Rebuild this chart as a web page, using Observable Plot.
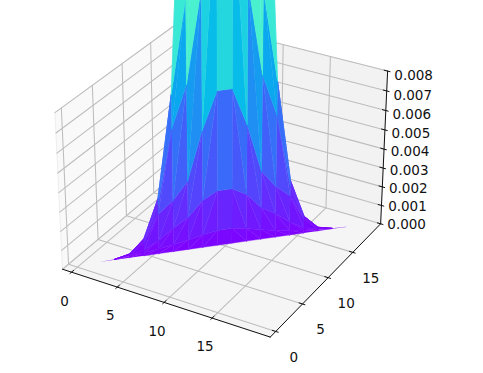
<!DOCTYPE html>
<html><head><meta charset="utf-8">
<script src="https://cdn.jsdelivr.net/npm/d3@7"></script>
<script src="https://cdn.jsdelivr.net/npm/@observablehq/plot@0.6"></script>
<style>html,body{margin:0;padding:0;background:#fff}svg{display:block}</style>
</head><body><div id="chart"></div>
<script>
// Values: each row is one curve across columns 0..19
const columns = d3.range(20);
const row0 = [0,0,0,0,0,0,0,0,0,0,0,0,0,0,0,0,0,0,0,0];
const row1 = [0,.000005,.00001,.00008,.00016,.00026,.00036,.0005,.00068,.0008,.0008,.00068,.0005,.00036,.00026,.00016,.00008,.00001,.000005,0];
const row2 = [0,.000005,.00002,.00012,.0003,.0007,.00125,.0017,.0025,.0029,.0029,.0025,.0017,.00125,.0007,.0003,.00012,.00002,.000005,0];
const row3 = [0,.000005,.00003,.00016,.0007,.0021,.0027,.0036,.0061,.008,.008,.0061,.0036,.0027,.0021,.0007,.00016,.00003,.000005,0];
const row4 = [0,.000005,.00003,.00018,.0008,.0026,.0064,.0085,.013,.0176,.0176,.013,.0085,.0064,.0026,.0008,.00018,.00003,.000005,0];
const row5 = [0,.000005,.00003,.0002,.0009,.0029,.0081,.0126,.026,.035,.035,.026,.0126,.0081,.0029,.0009,.0002,.00003,.000005,0];
const row6 = [0,.000005,.00003,.0002,.0009,.0029,.0081,.023,.04,.045,.045,.04,.023,.0081,.0029,.0009,.0002,.00003,.000005,0];
const rows = [row0,row1,row2,row3,row4,row5,row6];
const xTicks = [0,5,10,15];
const yTicks = [0,5,10,15];
const zTicks = [0,.001,.002,.003,.004,.005,.006,.007,.008];
const xLim = [-1,20.9], yLim = [-1,20.9], zLim = [0,0.008];
const colorMax = 0.04;
const curtainX = 0.3, curtainY = 0.75; // where column 0 stands on the floor

// view transform of the 3D box (elevation 30, azimuth -60, distance 10)
const bx = 1.19, bz = 0.8925, dist = 10, scale = 200, cx = 224, cy = 170;
function proj(x,y,z){
  const px=((x-xLim[0])/(xLim[1]-xLim[0])-.5)*bx;
  const py=((y-yLim[0])/(yLim[1]-yLim[0])-.5)*bx;
  const pz=((z-zLim[0])/(zLim[1]-zLim[0])-.5)*bz;
  const U=.8660254*px+.5*py;
  const V=-.25*px+.4330127*py+.8660254*pz;
  const W=.4330127*px-.75*py+.5*pz;
  const f=1/(1-W/dist);
  return {x:cx+scale*U*f,y:cy-scale*V*f,w:W};
}
const rainbow=t=>{t=Math.min(1,Math.max(0,t));
  return d3.rgb(255*Math.abs(2*t-.5),255*Math.sin(Math.PI*t),255*Math.cos(Math.PI*t/2)).formatHex();};

function path(id,pts,extra={}){return pts.map(p=>({id,...proj(...p),...extra}));}

// panes
const [x0,x1]=xLim,[y0,y1]=yLim,[z0,z1]=zLim;
const panes=[
 ...path("px",[[x0,y0,z0],[x0,y1,z0],[x0,y1,z1],[x0,y0,z1],[x0,y0,z0]],{c:"#f9f9f9"}),
 ...path("py",[[x0,y1,z0],[x1,y1,z0],[x1,y1,z1],[x0,y1,z1],[x0,y1,z0]],{c:"#f2f2f2"}),
 ...path("pz",[[x0,y0,z0],[x1,y0,z0],[x1,y1,z0],[x0,y1,z0],[x0,y0,z0]],{c:"#f5f5f5"})
];
// grid
const grid=[
 ...xTicks.flatMap(t=>path("gx"+t,[[t,y0,z0],[t,y1,z0],[t,y1,z1]])),
 ...yTicks.flatMap(t=>path("gy"+t,[[x1,t,z0],[x0,t,z0],[x0,t,z1]])),
 ...zTicks.flatMap(t=>path("gz"+t,[[x0,y0,t],[x0,y1,t],[x1,y1,t]]))
];
// axis lines and ticks
const axes=[
 ...path("ax",[[x0,y0,z0],[x1,y0,z0]]),
 ...path("ay",[[x1,y0,z0],[x1,y1,z0]]),
 ...path("az",[[x1,y1,z0],[x1,y1,z1]]),
 ...xTicks.flatMap(t=>path("tx"+t,[[t,y0-.25,z0],[t,y0+.35,z0]])),
 ...yTicks.flatMap(t=>path("ty"+t,[[x1+.25,t,z0],[x1-.35,t,z0]])),
 ...zTicks.flatMap(t=>path("tz"+t,[[x1+.25,y1,t],[x1-.35,y1,t]]))
];
// labels
const labels=[
 ...xTicks.map(t=>{const p=proj(t,y0,z0);return {x:p.x-7,y:p.y+29,t:String(t)};}),
 ...yTicks.map(t=>{const p=proj(x1,t,z0);return {x:p.x+18,y:p.y+26,t:String(t)};}),
 ...zTicks.map(t=>{const p=proj(x1,y1,t);return {x:p.x+26,y:p.y+1+4*t/z1,t:t.toFixed(3)};})
];
// surface facets between neighbouring rows, split toward the peak
const tris=[];
rows.slice(0,-1).forEach((lo,r)=>{
  columns.slice(0,-1).forEach(c=>{
    const v=(cc,rr)=>[cc+curtainX,cc+curtainY,rows[rr][cc]];
    if(c===9) tris.push([v(c,r),v(c+1,r),v(c+1,r+1),v(c,r+1)]);
    else if(c<9) tris.push([v(c,r),v(c+1,r),v(c+1,r+1)],[v(c,r),v(c+1,r+1),v(c,r+1)]);
    else tris.push([v(c,r),v(c+1,r),v(c,r+1)],[v(c+1,r),v(c+1,r+1),v(c,r+1)]);
  });
});
const faces=tris.map((f,i)=>{
  const mz=d3.mean(f,p=>p[2]);
  const pr=f.map(p=>proj(...p));
  return {i,mz,depth:d3.mean(pr,p=>p.w),f,col:rainbow(mz/colorMax)};
}).filter(F=>F.mz>0.000004).sort((a,b)=>a.depth-b.depth);
const surfLow=faces.filter(F=>F.mz<0.00008).flatMap(F=>path("f"+F.i,[...F.f,F.f[0]],{c:F.col}));
const surf=faces.filter(F=>F.mz>=0.00008).flatMap(F=>path("f"+F.i,[...F.f,F.f[0]],{c:F.col}));

const plot=Plot.plot({
  width:483,height:373,margin:0,
  x:{domain:[0,483],range:[0,483],axis:null},
  y:{domain:[0,373],range:[0,373],axis:null},
  color:{type:"identity"},
  style:{background:"#fff",fontFamily:"DejaVu Sans"},
  marks:[
    Plot.line(panes,{x:"x",y:"y",z:"id",fill:"c",stroke:"#eeeeee",strokeWidth:1}),
    Plot.line(grid,{x:"x",y:"y",z:"id",stroke:"#bdbdbd",strokeWidth:1.05}),
    Plot.line(surfLow,{x:"x",y:"y",z:"id",fill:"c",stroke:"none"}),
    Plot.line(surf,{x:"x",y:"y",z:"id",fill:"c",stroke:"c",strokeWidth:.4}),
    Plot.line(axes,{x:"x",y:"y",z:"id",stroke:"#111",strokeWidth:1}),
    Plot.text(labels,{x:"x",y:"y",text:"t",fontSize:13.5,fill:"#111",textAnchor:"middle",lineAnchor:"middle"})
  ]
});
document.getElementById("chart").append(plot);
</script></body></html>
